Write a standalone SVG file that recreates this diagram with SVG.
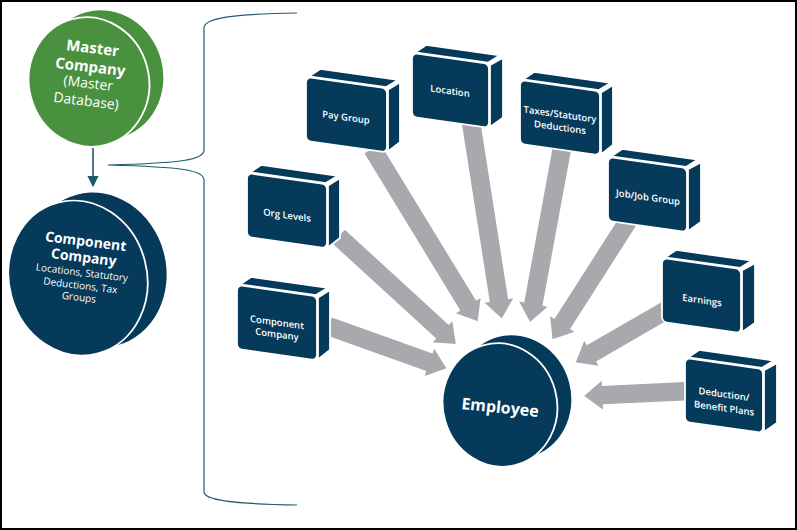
<svg xmlns="http://www.w3.org/2000/svg" width="797" height="530" viewBox="0 0 797 530">
<style>
.navy{fill:#053a5b}
.green{fill:#4a913f}
.sep{stroke:#fff;stroke-width:1.8}
.arr{fill:#a7a9ac;stroke:#fff;stroke-width:1.5}
.lbl{font-family:"Open Sans","DejaVu Sans",sans-serif;font-weight:600;font-size:9.5px;fill:#fff;text-anchor:middle}
.big{font-family:"Open Sans","DejaVu Sans",sans-serif;font-weight:700;fill:#fff;text-anchor:middle}
.reg{font-family:"Open Sans","DejaVu Sans",sans-serif;font-weight:400;fill:#fff;text-anchor:middle}
</style>
<defs>
<marker id="ah" viewBox="0 0 10 10" refX="9" refY="5" markerWidth="7" markerHeight="7" orient="auto"><path d="M0,0 L10,5 L0,10 z" fill="#1d5a69"/></marker>
</defs>
<rect x="0" y="0" width="797" height="530" fill="#fff"/>
<rect x="1" y="1" width="795" height="528" fill="none" stroke="#000" stroke-width="2"/>

<g id="connectors">
<path d="M297,13 C232,14 204,18 204,28 L204,150 C204,160 182,163 108,165 C182,167 204,170 204,180 L204,492 C204,500 232,504 297,505" fill="none" stroke="#1f5e6a" stroke-width="1.2"/>
<line x1="93" y1="148" x2="93" y2="186" stroke="#1d5a69" stroke-width="1.6" marker-end="url(#ah)"/>
<polygon class="arr" transform="translate(328,326) rotate(19.7)" points="0,-10 107,-10 107,-16 127,0 107,16 107,10 0,10"/>
<polygon class="arr" transform="translate(338,236) rotate(42.5)" points="0,-10 141,-10 141,-16 161,0 141,16 141,10 0,10"/>
<polygon class="arr" transform="translate(372,148) rotate(58.6)" points="0,-10 184,-10 184,-16 204,0 184,16 184,10 0,10"/>
<polygon class="arr" transform="translate(471,122) rotate(81.1)" points="0,-10 180,-10 180,-16 200,0 180,16 180,10 0,10"/>
<polygon class="arr" transform="translate(562,148) rotate(100.4)" points="0,-10 158,-10 158,-16 178,0 158,16 158,10 0,10"/>
<polygon class="arr" transform="translate(630,218) rotate(122.6)" points="0,-10 125,-10 125,-16 145,0 125,16 125,10 0,10"/>
<polygon class="arr" transform="translate(670,308) rotate(150)" points="0,-10 90,-10 90,-16 110,0 90,16 90,10 0,10"/>
<polygon class="arr" transform="translate(690,391) rotate(177.3)" points="0,-10 87,-10 87,-16 107,0 87,16 87,10 0,10"/>
</g>

<g id="master">
<ellipse class="green" cx="103" cy="75" rx="60" ry="65" transform="rotate(-15 103 75)"/>
<ellipse class="green sep" cx="89" cy="82" rx="60" ry="65" transform="rotate(-15 89 82)"/>
<g transform="rotate(7 89 78)">
<text class="big" x="89" y="53" font-size="15">Master</text>
<text class="big" x="89" y="72" font-size="15">Company</text>
<text class="reg" x="89" y="88" font-size="14">(Master</text>
<text class="reg" x="89" y="106" font-size="14">Database)</text>
</g>
</g>

<g id="component-company">
<ellipse class="navy" cx="97" cy="270" rx="69" ry="78" transform="rotate(-15 97 270)"/>
<ellipse class="navy sep" cx="78" cy="278" rx="69" ry="78" transform="rotate(-15 78 278)"/>
<g transform="rotate(7 82 272)">
<text class="big" x="82" y="246" font-size="14">Component</text>
<text class="big" x="82" y="262" font-size="14">Company</text>
<text class="reg" x="82" y="276" font-size="10">Locations, Statutory</text>
<text class="reg" x="82" y="289" font-size="10">Deductions, Tax</text>
<text class="reg" x="82" y="301" font-size="10">Groups</text>
</g>
</g>

<g id="employee">
<ellipse class="navy" cx="514" cy="397" rx="57" ry="62" transform="rotate(-15 514 397)"/>
<ellipse class="navy sep" cx="500" cy="405" rx="57" ry="62" transform="rotate(-15 500 405)"/>
<text class="big" x="500" y="413" font-size="16" transform="rotate(6 500 408)">Employee</text>
</g>

<g id="box-component-company" transform="translate(237,285) skewY(8)">
<polygon class="navy sep" points="3,-1 14,-10 91,-10 79,-1"/>
<polygon class="navy sep" points="81,1 93,-8 93,52 81,63"/>
<rect class="navy sep" x="0" y="0" width="80" height="64" rx="5"/>
<text class="lbl" x="40" y="35">Component</text>
<text class="lbl" x="40" y="47">Company</text>
</g>

<g id="box-org-levels" transform="translate(247,173) skewY(8)">
<polygon class="navy sep" points="3,-1 14,-10 91,-10 79,-1"/>
<polygon class="navy sep" points="81,1 93,-8 93,52 81,63"/>
<rect class="navy sep" x="0" y="0" width="80" height="64" rx="5"/>
<text class="lbl" x="40" y="40">Org Levels</text>
</g>

<g id="box-pay-group" transform="translate(306,77) skewY(8)">
<polygon class="navy sep" points="3,-1 14,-10 92,-10 80,-1"/>
<polygon class="navy sep" points="82,1 94,-8 94,52 82,63"/>
<rect class="navy sep" x="0" y="0" width="81" height="64" rx="5"/>
<text class="lbl" x="40" y="38">Pay Group</text>
</g>

<g id="box-location" transform="translate(412,53) skewY(8)">
<polygon class="navy sep" points="3,-1 14,-10 88,-10 76,-1"/>
<polygon class="navy sep" points="78,1 91,-8 91,52 78,63"/>
<rect class="navy sep" x="0" y="0" width="77" height="64" rx="5"/>
<text class="lbl" x="38" y="36">Location</text>
</g>

<g id="box-taxes" transform="translate(520,80) skewY(8)">
<polygon class="navy sep" points="3,-1 14,-10 91,-10 79,-1"/>
<polygon class="navy sep" points="81,1 93,-8 93,52 81,63"/>
<rect class="navy sep" x="0" y="0" width="80" height="64" rx="5"/>
<text class="lbl" x="40" y="32">Taxes/Statutory</text>
<text class="lbl" x="40" y="45">Deductions</text>
</g>

<g id="box-job" transform="translate(608,157) skewY(8)">
<polygon class="navy sep" points="3,-1 14,-10 90,-10 78,-1"/>
<polygon class="navy sep" points="80,1 93,-8 93,52 80,63"/>
<rect class="navy sep" x="0" y="0" width="79" height="64" rx="5"/>
<text class="lbl" x="40" y="38">Job/Job Group</text>
</g>

<g id="box-earnings" transform="translate(662,258) skewY(8)">
<polygon class="navy sep" points="3,-1 14,-10 90,-10 78,-1"/>
<polygon class="navy sep" points="80,1 93,-8 93,52 80,63"/>
<rect class="navy sep" x="0" y="0" width="79" height="64" rx="5"/>
<text class="lbl" x="40" y="40">Earnings</text>
</g>

<g id="box-deduction" transform="translate(685,358) skewY(8)">
<polygon class="navy sep" points="3,-1 14,-10 89,-10 77,-1"/>
<polygon class="navy sep" points="79,1 92,-8 92,52 79,63"/>
<rect class="navy sep" x="0" y="0" width="78" height="64" rx="5"/>
<text class="lbl" x="39" y="34" font-size="11">Deduction/</text>
<text class="lbl" x="39" y="48" font-size="11">Benefit Plans</text>
</g>
</svg>
